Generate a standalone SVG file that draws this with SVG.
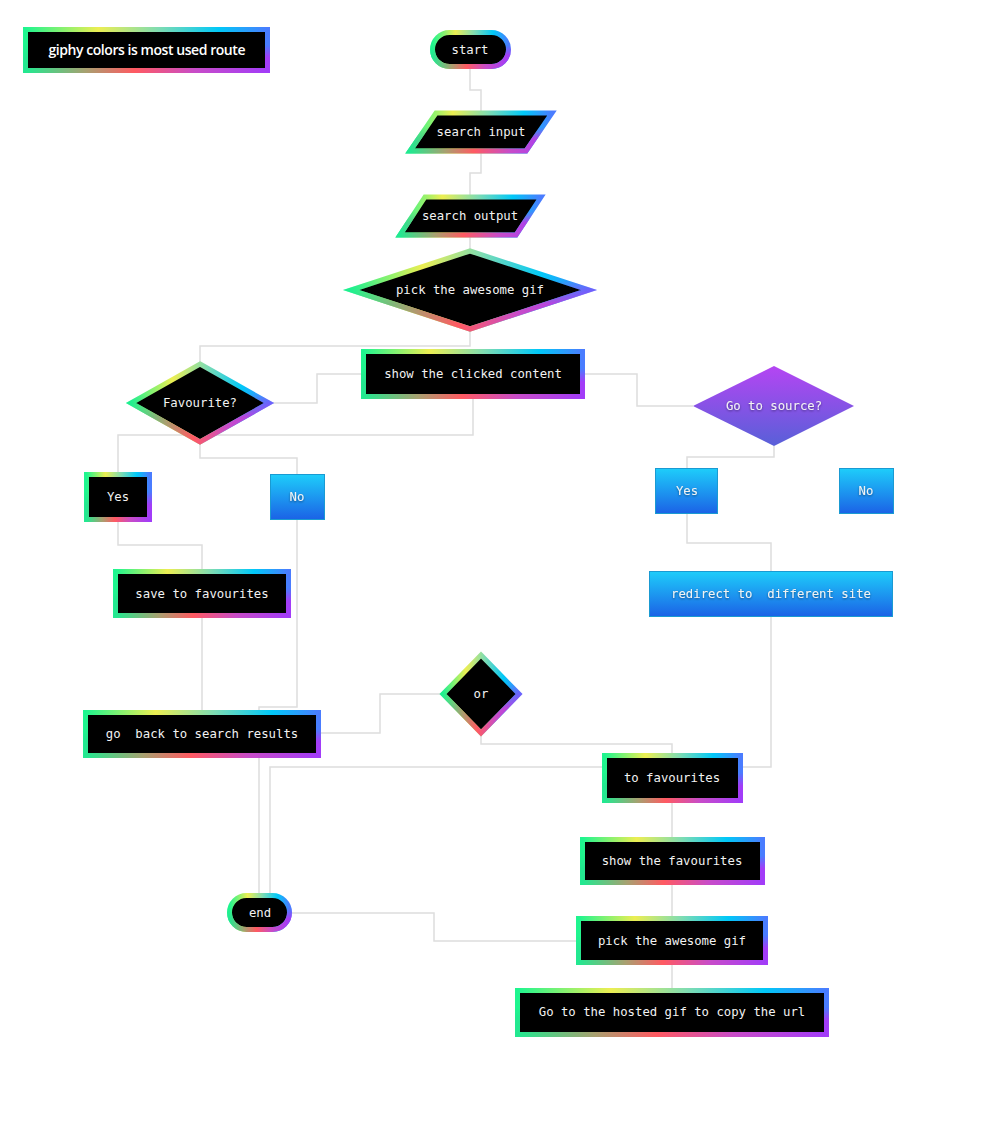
<svg xmlns="http://www.w3.org/2000/svg" width="995" height="1121" viewBox="0 0 995 1121">
<defs>
<linearGradient id="gTop" x1="0" y1="0" x2="1" y2="0">
<stop offset="0" stop-color="#1ef58f"/>
<stop offset="0.3" stop-color="#ecee52"/>
<stop offset="0.55" stop-color="#7fdcb2"/>
<stop offset="0.8" stop-color="#00c8f8"/>
<stop offset="1" stop-color="#4a7cff"/>
</linearGradient>
<linearGradient id="gBot" x1="0" y1="0" x2="1" y2="0">
<stop offset="0" stop-color="#22e890"/>
<stop offset="0.25" stop-color="#a8a070"/>
<stop offset="0.45" stop-color="#ff5a62"/>
<stop offset="0.7" stop-color="#c84cc8"/>
<stop offset="1" stop-color="#a23cf8"/>
</linearGradient>
<linearGradient id="fadeV" x1="0" y1="0" x2="0" y2="1">
<stop offset="0.4" stop-color="#000"/>
<stop offset="0.65" stop-color="#fff"/>
</linearGradient>
<mask id="mBot" maskContentUnits="objectBoundingBox">
<rect x="-0.1" y="-0.1" width="1.2" height="1.2" fill="url(#fadeV)"/>
</mask>
<linearGradient id="gBlue" x1="0" y1="0" x2="0" y2="1">
<stop offset="0" stop-color="#1ecdfa"/>
<stop offset="1" stop-color="#1b62e6"/>
</linearGradient>
<linearGradient id="gPurple" x1="0" y1="0" x2="0" y2="1">
<stop offset="0" stop-color="#b545f3"/>
<stop offset="1" stop-color="#5860d8"/>
</linearGradient>
<filter id="tsh" x="-20%" y="-50%" width="140%" height="200%">
<feDropShadow dx="0" dy="1" stdDeviation="1" flood-color="#000" flood-opacity="0.45"/>
</filter>
</defs>
<style>
.bt{fill:#000;stroke:url(#gTop);stroke-width:5}
.bb{fill:none;stroke:url(#gBot);stroke-width:5;mask:url(#mBot)}
.blue{fill:url(#gBlue);stroke:#1a9ad2;stroke-width:1}
.purple{fill:url(#gPurple)}
.t{font-family:"DejaVu Sans Mono","Liberation Mono",monospace;font-size:12.3px;fill:#f2f2f2;text-anchor:middle;dominant-baseline:central;white-space:pre}
.ts{filter:url(#tsh)}
.title{font-family:"Open Sans","Liberation Sans",sans-serif;font-weight:600;font-size:14px;fill:#fff;text-anchor:middle;dominant-baseline:central}
.c path{fill:none;stroke:#dddddd;stroke-width:1.5}
</style>
<rect width="995" height="1121" fill="#fff"/>
<g class="c" id="connectors">
<path d="M470,69 V90 H481 V111"/>
<path d="M481,153 V173 H470 V195"/>
<path d="M470,237 V250"/>
<path d="M470,331 V346 H200 V362"/>
<path d="M361,374 H317 V403 H273"/>
<path d="M585,374 H637 V406 H693"/>
<path d="M473,399 V435 H118 V472"/>
<path d="M200,444 V458 H297 V474"/>
<path d="M774,446 V457 H687 V468"/>
<path d="M118,522 V545 H202 V569"/>
<path d="M687,514 V543 H771 V571"/>
<path d="M202,618 V710"/>
<path d="M297,520 V707 H259 V710"/>
<path d="M321,733 H380 V694 H440"/>
<path d="M481,736 V744 H672 V753"/>
<path d="M771,617 V767 H743"/>
<path d="M602,767 H270 V893"/>
<path d="M259,758 V893"/>
<path d="M672,803 V837"/>
<path d="M672,885 V916"/>
<path d="M672,965 V988"/>
<path d="M576,941 H434 V913 H292"/>
</g>
<g id="title">
<rect class="bt" x="25.5" y="29.5" width="242" height="41"/>
<rect class="bb" x="25.5" y="29.5" width="242" height="41"/>
<text class="title" x="147" y="49" textLength="197">giphy colors is most used route</text>
</g>
<g id="start">
<rect class="bt" x="432.5" y="32.5" width="76" height="34" rx="17"/>
<rect class="bb" x="432.5" y="32.5" width="76" height="34" rx="17"/>
<text class="t" x="470" y="50">start</text>
</g>
<g id="search-input">
<polygon class="bt" points="436,113 552,113 526,151 410,151"/>
<polygon class="bb" points="436,113 552,113 526,151 410,151"/>
<text class="t" x="481" y="132">search input</text>
</g>
<g id="search-output">
<polygon class="bt" points="425,197 541,197 516,235 400,235"/>
<polygon class="bb" points="425,197 541,197 516,235 400,235"/>
<text class="t" x="470" y="216">search output</text>
</g>
<g id="pick-diamond">
<polygon class="bt" points="470,251 589,290 470,329 351,290"/>
<polygon class="bb" points="470,251 589,290 470,329 351,290"/>
<text class="t" x="470" y="290">pick the awesome gif</text>
</g>
<g id="show-clicked">
<rect class="bt" x="363.5" y="351.5" width="219" height="45"/>
<rect class="bb" x="363.5" y="351.5" width="219" height="45"/>
<text class="t" x="473" y="374">show the clicked content</text>
</g>
<g id="favourite">
<polygon class="bt" points="200,364 269,403 200,442 131,403"/>
<polygon class="bb" points="200,364 269,403 200,442 131,403"/>
<text class="t" x="200" y="403">Favourite?</text>
</g>
<g id="go-to-source">
<polygon class="purple" points="774,366 854,406 774,446 693,406"/>
<text class="t ts" x="774" y="406">Go to source?</text>
</g>
<g id="yes-left">
<rect class="bt" x="86.5" y="474.5" width="63" height="45"/>
<rect class="bb" x="86.5" y="474.5" width="63" height="45"/>
<text class="t" x="118" y="497">Yes</text>
</g>
<g id="no-left">
<rect class="blue" x="270.5" y="474.5" width="54" height="45"/>
<text class="t ts" x="297" y="497">No</text>
</g>
<g id="yes-right">
<rect class="blue" x="655.5" y="468.5" width="62" height="45"/>
<text class="t ts" x="687" y="491">Yes</text>
</g>
<g id="no-right">
<rect class="blue" x="839.5" y="468.5" width="54" height="45"/>
<text class="t ts" x="866" y="491">No</text>
</g>
<g id="save-favourites">
<rect class="bt" x="115.5" y="571.5" width="173" height="44"/>
<rect class="bb" x="115.5" y="571.5" width="173" height="44"/>
<text class="t" x="202" y="594">save to favourites</text>
</g>
<g id="redirect">
<rect class="blue" x="649.5" y="571.5" width="243" height="45"/>
<text class="t ts" x="771" y="594">redirect to  different site</text>
</g>
<g id="or">
<polygon class="bt" points="481,655 519,694 481,733 443,694"/>
<polygon class="bb" points="481,655 519,694 481,733 443,694"/>
<text class="t" x="481" y="694">or</text>
</g>
<g id="go-back">
<rect class="bt" x="85.5" y="712.5" width="233" height="43"/>
<rect class="bb" x="85.5" y="712.5" width="233" height="43"/>
<text class="t" x="202" y="734">go  back to search results</text>
</g>
<g id="to-favourites">
<rect class="bt" x="604.5" y="755.5" width="136" height="45"/>
<rect class="bb" x="604.5" y="755.5" width="136" height="45"/>
<text class="t" x="672" y="778">to favourites</text>
</g>
<g id="show-favourites">
<rect class="bt" x="582.5" y="839.5" width="180" height="43"/>
<rect class="bb" x="582.5" y="839.5" width="180" height="43"/>
<text class="t" x="672" y="861">show the favourites</text>
</g>
<g id="pick-gif">
<rect class="bt" x="578.5" y="918.5" width="187" height="44"/>
<rect class="bb" x="578.5" y="918.5" width="187" height="44"/>
<text class="t" x="672" y="941">pick the awesome gif</text>
</g>
<g id="hosted-gif">
<rect class="bt" x="517.5" y="990.5" width="309" height="44"/>
<rect class="bb" x="517.5" y="990.5" width="309" height="44"/>
<text class="t" x="672" y="1012">Go to the hosted gif to copy the url</text>
</g>
<g id="end">
<rect class="bt" x="229.5" y="895.5" width="60" height="34" rx="17"/>
<rect class="bb" x="229.5" y="895.5" width="60" height="34" rx="17"/>
<text class="t" x="260" y="913">end</text>
</g>
</svg>
